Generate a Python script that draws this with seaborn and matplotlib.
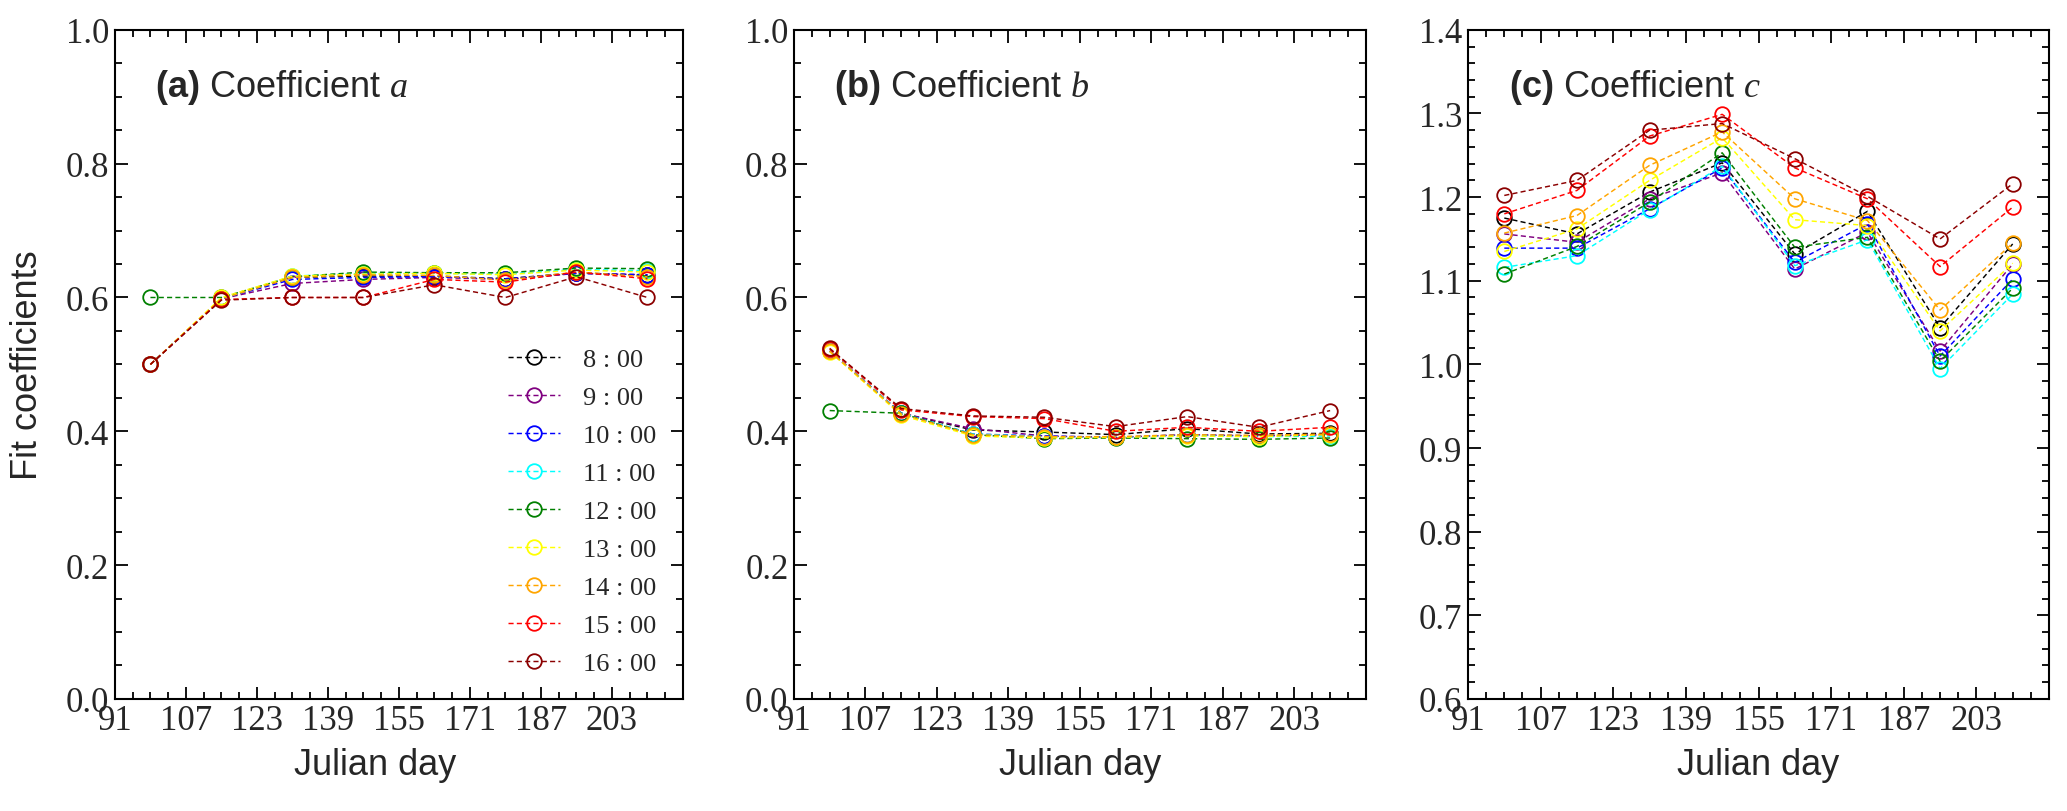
import seaborn as sns
import matplotlib.pyplot as plt
from matplotlib.ticker import MultipleLocator, FixedLocator

# ---------- data ----------
days = [99, 115, 131, 147, 163, 179, 195, 211]
hours = ['8 : 00', '9 : 00', '10 : 00', '11 : 00', '12 : 00',
         '13 : 00', '14 : 00', '15 : 00', '16 : 00']
colors = ['black', 'purple', 'blue', 'cyan', 'green',
          'yellow', 'orange', 'red', 'darkred']

# coefficient a, one row per hour
coef_a = [
    [0.500, 0.598, 0.630, 0.632, 0.632, 0.628, 0.637, 0.633],
    [0.500, 0.598, 0.621, 0.627, 0.630, 0.627, 0.636, 0.634],
    [0.500, 0.598, 0.627, 0.630, 0.631, 0.628, 0.636, 0.634],
    [0.500, 0.598, 0.632, 0.636, 0.636, 0.635, 0.642, 0.640],
    [0.600, 0.600, 0.631, 0.638, 0.637, 0.637, 0.644, 0.643],
    [0.500, 0.600, 0.632, 0.635, 0.636, 0.634, 0.641, 0.638],
    [0.500, 0.598, 0.630, 0.634, 0.633, 0.626, 0.638, 0.631],
    [0.500, 0.597, 0.600, 0.600, 0.627, 0.623, 0.638, 0.628],
    [0.500, 0.596, 0.600, 0.600, 0.619, 0.600, 0.631, 0.600],
]

# coefficient b
coef_b = [
    [0.520, 0.427, 0.402, 0.399, 0.395, 0.404, 0.396, 0.397],
    [0.520, 0.427, 0.404, 0.393, 0.391, 0.395, 0.393, 0.395],
    [0.520, 0.427, 0.396, 0.393, 0.391, 0.395, 0.393, 0.394],
    [0.520, 0.427, 0.396, 0.392, 0.391, 0.394, 0.392, 0.393],
    [0.431, 0.427, 0.395, 0.389, 0.390, 0.389, 0.388, 0.390],
    [0.519, 0.424, 0.393, 0.390, 0.391, 0.393, 0.392, 0.395],
    [0.520, 0.426, 0.395, 0.392, 0.392, 0.395, 0.394, 0.396],
    [0.523, 0.432, 0.422, 0.419, 0.400, 0.406, 0.400, 0.406],
    [0.524, 0.434, 0.423, 0.421, 0.407, 0.422, 0.406, 0.431],
]

# coefficient c
coef_c = [
    [1.175, 1.156, 1.206, 1.241, 1.132, 1.183, 1.044, 1.144],
    [1.156, 1.146, 1.198, 1.229, 1.114, 1.158, 1.016, 1.120],
    [1.139, 1.139, 1.186, 1.235, 1.122, 1.168, 1.010, 1.102],
    [1.116, 1.130, 1.185, 1.237, 1.118, 1.149, 0.995, 1.084],
    [1.108, 1.141, 1.194, 1.253, 1.140, 1.152, 1.004, 1.091],
    [1.135, 1.162, 1.220, 1.271, 1.173, 1.166, 1.040, 1.121],
    [1.157, 1.178, 1.238, 1.278, 1.198, 1.172, 1.065, 1.145],
    [1.180, 1.208, 1.273, 1.299, 1.235, 1.198, 1.117, 1.188],
    [1.202, 1.220, 1.280, 1.288, 1.246, 1.201, 1.150, 1.216],
]

# ---------- style ----------
sns.set_theme(style='ticks')
plt.rcParams['font.family'] = ['Liberation Sans', 'DejaVu Sans']
plt.rcParams['mathtext.fontset'] = 'custom'
plt.rcParams['mathtext.rm'] = 'Liberation Sans'
plt.rcParams['mathtext.bf'] = 'Liberation Sans:bold'
plt.rcParams['mathtext.it'] = 'Liberation Serif:italic'

fig = plt.figure(figsize=(20.67, 8.12), dpi=100)
bottom, height = 0.138, 0.824
ax_a = fig.add_axes([0.0556, bottom, 0.2748, height])
ax_b = fig.add_axes([0.3841, bottom, 0.2767, height])
ax_c = fig.add_axes([0.7102, bottom, 0.2811, height])

panels = [
    (ax_a, coef_a, r'$\mathbf{(a)}$ Coefficient $\mathit{a}$', (0.0, 1.0), 0.2, 0.05),
    (ax_b, coef_b, r'$\mathbf{(b)}$ Coefficient $\mathit{b}$', (0.0, 1.0), 0.2, 0.05),
    (ax_c, coef_c, r'$\mathbf{(c)}$ Coefficient $\mathit{c}$', (0.6, 1.4), 0.1, 0.02),
]

for ax, values, title, ylim, ymaj, ymin in panels:
    for hour, col, vals in zip(hours, colors, values):
        sns.lineplot(x=days, y=vals, ax=ax, color=col, marker='o', ms=10.5,
                     mfc='none', mec=col, mew=1.3, lw=1.05, dashes=False,
                     linestyle=(0, (3.5, 2.2)), label=hour, legend=False)

    ax.set_xlim(91, 219)
    ax.set_ylim(*ylim)
    ax.xaxis.set_major_locator(FixedLocator(list(range(91, 204, 16))))
    ax.xaxis.set_minor_locator(FixedLocator(list(range(91, 220, 4))))
    ax.yaxis.set_major_locator(MultipleLocator(ymaj))
    ax.yaxis.set_minor_locator(MultipleLocator(ymin))
    ax.yaxis.set_major_formatter(plt.FormatStrFormatter('%.1f'))

    ax.tick_params(which='both', direction='in', top=True, right=True,
                   width=1.3, color='black')
    ax.tick_params(which='major', length=9, labelsize=25, pad=4)
    ax.tick_params(which='minor', length=5)
    for lab in ax.get_xticklabels() + ax.get_yticklabels():
        lab.set_family('Liberation Serif')
    for sp in ax.spines.values():
        sp.set_linewidth(1.5)
        sp.set_color('black')

    ax.set_xlabel('Julian day', fontsize=26)
    ax.xaxis.set_label_coords(0.5, -0.072)
    ax.set_ylabel('')
    ax.text(0.07, 0.915, title, transform=ax.transAxes, fontsize=26,
            va='center', ha='left')

ax_a.xaxis.set_label_coords(0.458, -0.072)
ax_a.set_ylabel('Fit coefficients', fontsize=26)
ax_a.yaxis.set_label_coords(-0.123, 0.5)

leg = ax_a.legend(loc='lower right', bbox_to_anchor=(0.954, 0.036), frameon=False,
                  prop={'family': 'Liberation Serif', 'size': 19},
                  handlelength=2.0, handletextpad=0.87, labelspacing=0.55,
                  borderpad=0, borderaxespad=0)

fig.savefig('out.png', dpi=100)
